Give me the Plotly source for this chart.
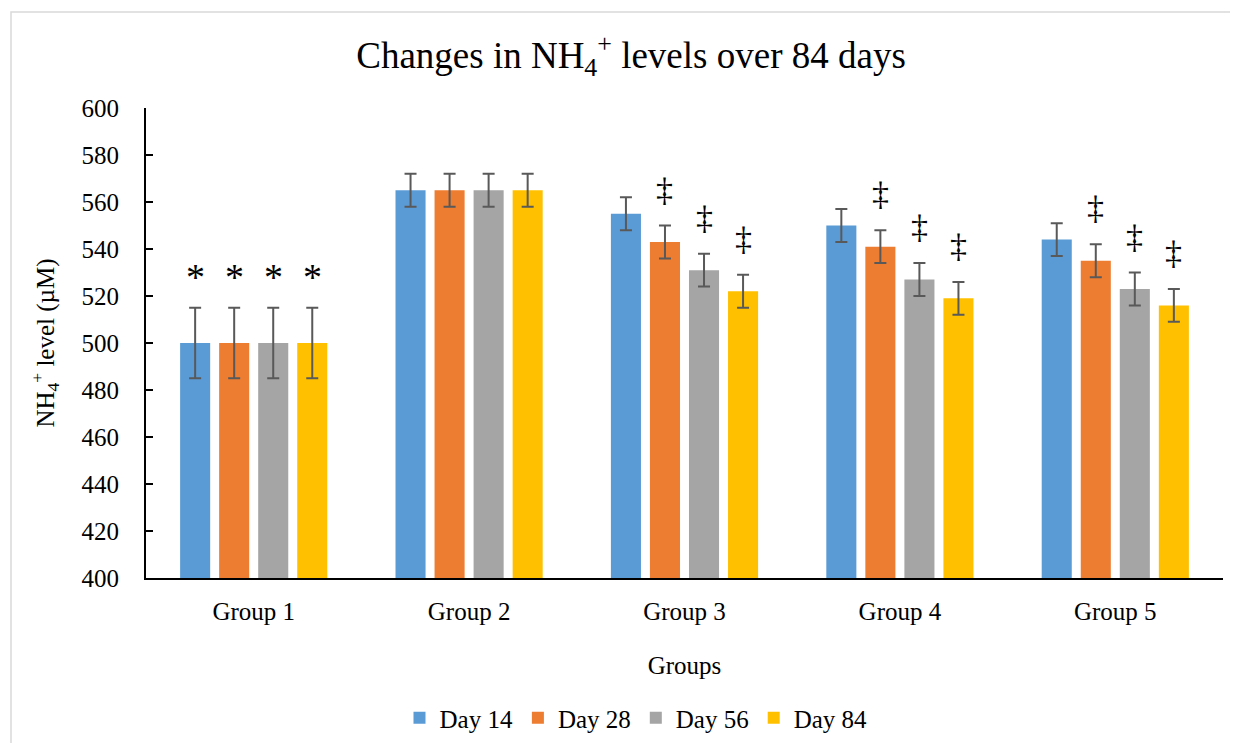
import plotly.graph_objects as go

groups = ["Group 1", "Group 2", "Group 3", "Group 4", "Group 5"]
series_names = ["Day 14", "Day 28", "Day 56", "Day 84"]
day14 = [500, 565, 555, 550, 544]
day28 = [500, 565, 543, 541, 535]
day56 = [500, 565, 531, 527, 523]
day84 = [500, 565, 522, 519, 516]
err14 = [15, 7, 7, 7, 7]
err28 = [15, 7, 7, 7, 7]
err56 = [15, 7, 7, 7, 7]
err84 = [15, 7, 7, 7, 7]
# significance marks per series (per group)
marks14 = ["*", "", "", "", ""]
marks28 = ["*", "", "‡", "‡", "‡"]
marks56 = ["*", "", "‡", "‡", "‡"]
marks84 = ["*", "", "‡", "‡", "‡"]
colors = ["#5B9BD5", "#ED7D31", "#A5A5A5", "#FFC000"]

values = [day14, day28, day56, day84]
errors = [err14, err28, err56, err84]
marks = [marks14, marks28, marks56, marks84]

W, H = 1222, 735
ml, mr, mt, mb = 138, 7, 100, 165
bargap = 0.275
bargroupgap = 0.23
FONT = "Liberation Serif, Times New Roman, serif"

fig = go.Figure()
for name, v, e, c in zip(series_names, values, errors, colors):
    fig.add_trace(go.Bar(
        name=name, x=groups, y=v, marker=dict(color=c, line=dict(width=0)),
        error_y=dict(type="data", array=e, visible=True, color="#595959",
                     thickness=2, width=6),
    ))

plot_w = W - ml - mr
plot_h = H - mt - mb
cat_w = plot_w / len(groups)
slot = cat_w * (1 - bargap) / len(series_names)
n = len(series_names)
for i, (v, e, m) in enumerate(zip(values, errors, marks)):
    off = (i - (n - 1) / 2) * slot
    for g, val, er, mk in zip(groups, v, e, m):
        if not mk:
            continue
        if mk == "*":
            fig.add_annotation(x=g, y=val + er, text=mk, showarrow=False,
                               xshift=off, yanchor="bottom", yshift=8,
                               font=dict(family=FONT, size=38, color="#000000"))
        else:
            fig.add_annotation(x=g, y=val + er, text=mk, showarrow=False,
                               xshift=off, yanchor="bottom", yshift=16,
                               font=dict(family=FONT, size=34, color="#000000"))

# chart border
fig.add_shape(type="rect", xref="paper", yref="paper",
              x0=(3 - ml) / plot_w, x1=(W + 5 - ml) / plot_w,
              y0=-(mb + 5) / plot_h, y1=(H - mb - 4) / plot_h,
              line=dict(color="#D9D9D9", width=1.5), layer="below")

fig.update_layout(
    width=W, height=H,
    margin=dict(l=ml, r=mr, t=mt, b=mb, autoexpand=False),
    paper_bgcolor="white", plot_bgcolor="white",
    barmode="group", bargap=bargap, bargroupgap=bargroupgap,
    font=dict(family=FONT, size=25, color="#000000"),
    title=dict(text="Changes in NH<sub>4</sub><sup>+</sup> levels over 84 days",
               x=(623 - ml) / plot_w, xref="paper", xanchor="center",
               y=1 - 47 / H, yref="container", yanchor="middle",
               font=dict(family=FONT, size=37, color="#000000")),
    legend=dict(orientation="h", x=(628 - ml) / plot_w, xanchor="center",
                y=-(710 - (H - mb)) / plot_h, yanchor="middle",
                font=dict(family=FONT, size=25, color="#000000"),
                traceorder="normal", itemwidth=30),
    showlegend=True,
)
fig.update_xaxes(showline=True, linecolor="#000000", linewidth=2, ticks="",
                 showgrid=False, ticklabelstandoff=10, automargin=False,
                 title=dict(text="Groups", standoff=32, font=dict(family=FONT, size=25)))
fig.update_yaxes(range=[400, 600], dtick=20, showline=True, linecolor="#000000", linewidth=2,
                 ticks="inside", ticklen=7, tickwidth=1.5, tickcolor="#000000",
                 showgrid=False, zeroline=False, ticklabelstandoff=20, automargin=False,
                 title=dict(text="NH<sub>4</sub><sup>+</sup> level (µM)", standoff=20,
                            font=dict(family=FONT, size=25)))

fig.write_html("out.html")
